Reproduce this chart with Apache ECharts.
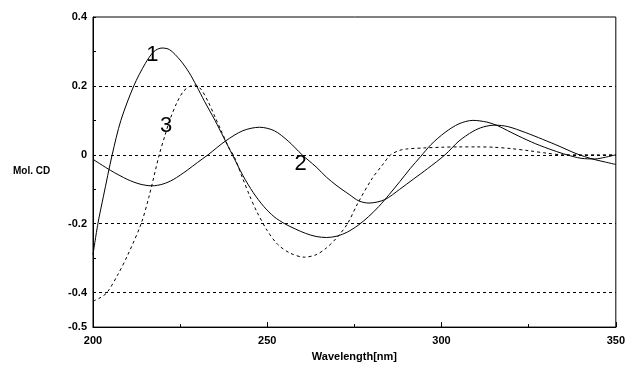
<!DOCTYPE html>
<html>
<head>
<meta charset="utf-8">
<script src="https://cdn.jsdelivr.net/npm/echarts@6/dist/echarts.min.js"></script>
<style>
html,body{margin:0;padding:0;background:#fff;}
#chart{width:628px;height:367px;}
</style>
</head>
<body>
<div id="chart"></div>
<script>
// Curve 1 (solid)
var curve1 = [
  [200,-0.29],[201.4,-0.2],[203,-0.12],[205.5,0],[208,0.1],[211.7,0.2],[215,0.265],[217.5,0.3],
  [219.8,0.31],[222,0.305],[225,0.275],[227.5,0.24],[229.7,0.2],[232,0.155],[235,0.1],[237.5,0.05],
  [240,0],[243,-0.06],[246,-0.11],[249,-0.15],[252,-0.18],[255,-0.2],[258,-0.215],[261,-0.228],
  [264,-0.237],[267,-0.24],[270,-0.236],[273,-0.224],[276,-0.205],[279,-0.18],[282,-0.15],[285,-0.115],
  [288,-0.078],[291,-0.04],[294,-0.005],[297,0.03],[301,0.065],[305,0.09],[309,0.1],[313,0.095],[316,0.085],
  [319,0.07],[322,0.055],[327,0.032],[332,0.013],[336,0.0],[340,-0.01],[344,-0.012],[347,-0.007],[350,0.0]
];
// Curve 2 (solid)
var curve2 = [
  [200,-0.013],[205,-0.045],[210,-0.072],[213.5,-0.085],[216.9,-0.09],[220,-0.085],[223,-0.072],[227,-0.045],
  [230,-0.022],[233,0],[238,0.04],[243,0.07],[247.8,0.08],[252,0.07],[256,0.04],[260,0.0],[264,-0.035],
  [267,-0.065],[270,-0.09],[273.5,-0.115],[276.3,-0.134],[279.2,-0.14],[283.7,-0.13],[288,-0.1],[292,-0.07],
  [296,-0.04],[301,0],[305,0.04],[309,0.068],[312,0.081],[315.3,0.086],[319,0.082],[324,0.065],[329,0.045],
  [334,0.024],[338,0.006],[341,-0.005],[344,-0.014],[347,-0.021],[350,-0.028]
];
// Curve 3 (dashed)
var curve3 = [
  [200,-0.425],[202,-0.415],[204,-0.4],[207,-0.35],[210,-0.29],[213.8,-0.2],[216,-0.124],[219,0],
  [220.7,0.058],[222,0.1],[224,0.15],[226,0.185],[228,0.2],[229.5,0.202],[231,0.19],[233,0.155],[235,0.11],
  [237,0.065],[239,0.02],[240.5,-0.005],[243,-0.07],[245,-0.12],[247,-0.165],[250,-0.22],[253,-0.26],
  [256.5,-0.285],[260.6,-0.297],[264,-0.29],[267,-0.27],[270,-0.24],[273,-0.2],[276,-0.14],[280,-0.07],
  [283,-0.03],[285.4,0],[288,0.013],[290,0.017],[295,0.02],[300,0.022],[305,0.023],[310,0.023],[315,0.022],
  [320,0.018],[325,0.012],[330,0.005],[335,0.0],[340,0],[345,0],[350,0]
];
var gridValues = [0.2, 0, -0.2, -0.4];
var yLabelValues = [0.4, 0.2, 0, -0.2, -0.4, -0.5];
var curveLabels = [
  {name:'1', coord:[217.0, 0.291]},
  {name:'2', coord:[259.6, -0.026]},
  {name:'3', coord:[221.0, 0.084]}
];

var chart = echarts.init(document.getElementById('chart'), null, {renderer:'canvas'});
var fontFam = 'Liberation Sans, Arial, sans-serif';
var option = {
  animation: false,
  backgroundColor: '#fff',
  grid: {left: 93, right: 10, top: 17, bottom: 38, show: true, borderColor: '#000', borderWidth: 1, backgroundColor: 'transparent'},
  xAxis: {
    type: 'value', min: 200, max: 350, interval: 50,
    name: 'Wavelength[nm]', nameLocation: 'middle', nameGap: 22,
    nameTextStyle: {color:'#000', fontWeight:'bold', fontSize: 11, fontFamily: fontFam},
    axisLine: {show: true, onZero: false, lineStyle: {color:'#000', width: 1}},
    axisTick: {show: true, inside: true, length: 5, lineStyle: {color:'#000'}},
    minorTick: {show: true, splitNumber: 2, length: 3, lineStyle: {color:'#000'}},
    axisLabel: {color:'#000', fontWeight:'bold', fontSize: 11, fontFamily: fontFam, margin: 8},
    splitLine: {show: false}
  },
  yAxis: {
    type: 'value', min: -0.5, max: 0.4, interval: 0.1,
    axisLine: {show: true, onZero: false, lineStyle: {color:'#000', width: 1}},
    axisTick: {show: true, inside: true, length: 3, lineStyle: {color:'#000'}},
    axisLabel: {
      color:'#000', fontWeight:'bold', fontSize: 11, fontFamily: fontFam, margin: 6,
      formatter: function(v){
        var r = Math.round(v*10)/10;
        for (var i=0;i<yLabelValues.length;i++){ if (Math.abs(yLabelValues[i]-r)<1e-6) return r===0 ? '0' : String(r); }
        return '';
      }
    },
    splitLine: {show: false}
  },
  graphic: [
    {type:'text', left: 13, top: 166, style:{text:'Mol. CD', fill:'#000', font:'bold 10px ' + fontFam}}
  ],
  series: [
    {
      type:'line', data: curve1, smooth: 0.3, symbol:'none',
      lineStyle:{color:'#000', width:1},
      markLine: {
        silent: true, symbol: 'none', label:{show:false},
        lineStyle: {color:'#000', width: 1, type:[3,3]},
        data: gridValues.map(function(v){ return {yAxis: v}; })
      },
      markPoint: {
        symbol: 'circle', symbolSize: 1, itemStyle:{color:'rgba(0,0,0,0)'},
        label: {show: true, position: 'inside', color:'#000', fontSize: 22, fontFamily: fontFam,
                formatter: function(p){ return p.name; }},
        data: curveLabels.map(function(l){ return {name: l.name, coord: l.coord}; })
      }
    },
    {type:'line', data: curve2, smooth: 0.3, symbol:'none', lineStyle:{color:'#000', width:1}},
    {type:'line', data: curve3, smooth: 0.3, symbol:'none', lineStyle:{color:'#000', width:1, type:[3,3]}}
  ]
};
chart.setOption(option);
</script>
</body>
</html>
